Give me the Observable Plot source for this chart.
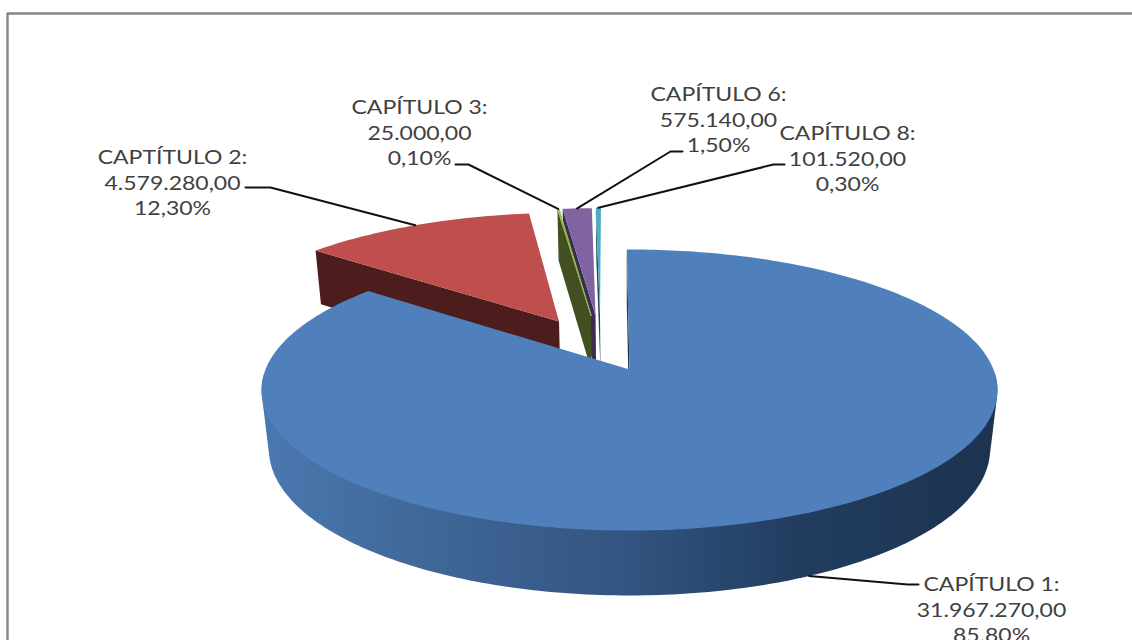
<!DOCTYPE html>
<html><head><meta charset="utf-8">
<script src="https://cdn.jsdelivr.net/npm/d3@7"></script>
<script src="https://cdn.jsdelivr.net/npm/@observablehq/plot@0.6"></script>
<style>html,body{margin:0;padding:0;background:#fff;overflow:hidden}svg{display:block}</style>
</head><body><div id="chart"></div>
<script>
// --- data ---
const categories = ["CAPÍTULO 1","CAPTÍTULO 2","CAPÍTULO 3","CAPÍTULO 6","CAPÍTULO 8"];
const values = [31967270, 4579280, 25000, 575140, 101520];
const valueLabels = ["31.967.270,00","4.579.280,00","25.000,00","575.140,00","101.520,00"];
const percentLabels = ["85.80%","12,30%","0,10%","1,50%","0,30%"];

// --- styling and layout, kept apart from the data ---
const topColors = ["#4F80BC","#BE4F4C","#9BBB59","#8064A2","#4BACC6"];
const wallColors = ["#1C3350","#4C1D1C","#414F21","#3A2C50","#1E4C58"];
const explodeU = [0,-.204,-.112,-.099,-.086];
const explodeV = [0,.3675,.4166,.4166,.42];
const labelX = [991,172,419,718,847];
const labelY = [608,181,131,118,157];
const elbowStart = [[907,584],[270,187],[468,164],[670,151],[773,164]];
const elbowEnd = [[918,584],[245,187],[455,164],[682,151],[784,164]];
// 0 = leader starts on the wall's lower rim, 1 = on the top rim
const leaderOnTop = [0,1,1,1,1];
// part of the big slice's rim whose wall faces the viewer
const frontFrom = 92, frontTo = 268;

// --- projection of the tilted disc ---
const apexX = 629, apexY = 369, K = .146, A = 137.5, C = 364, M = .02, B = 60, ROT = -.5;
function project(u, v, low) {
  const w = 1 + K * v + (low ? M : 0);
  return {x: apexX + C * u / w, y: apexY + (-A * v + (low ? B : 0)) / w};
}
const total = d3.sum(values);
let acc = 0;
const slices = values.map((val, i) => {
  const a0 = acc / total * 360 + ROT; acc += val;
  return {i, a0, a1: acc / total * 360 + ROT};
});
const rim = (s, deg, low) => {
  const r = deg * Math.PI / 180;
  return project(Math.sin(r) + explodeU[s.i], Math.cos(r) + explodeV[s.i], low);
};
const apex = (s, low) => project(explodeU[s.i], explodeV[s.i], low);
const arc = (s, low, from = s.a0, to = s.a1) => {
  const n = Math.max(2, Math.ceil(to - from));
  return d3.range(n + 1).map(k => rim(s, from + (to - from) * k / n, low));
};
const topFace = s => [apex(s, false), ...arc(s, false)];
const cutFace = (s, deg) => [apex(s, false), rim(s, deg, false), rim(s, deg, true), apex(s, true)];
// silhouette of the front wall: hull of the upper and lower rims
const frontWall = s => d3.polygonHull(
  [...arc(s, false, frontFrom, frontTo), ...arc(s, true, frontFrom, frontTo)].map(p => [p.x, p.y])
).map(([x, y]) => ({x, y}));

const poly = (pts, fill, stroke = "none") => Plot.line(pts, {x: "x", y: "y", fill, stroke, strokeWidth: 1, curve: "linear-closed"});

const marks = [
  Plot.line([{x:7,y:640},{x:7,y:13},{x:1132,y:13}], {x:"x", y:"y", stroke:"#868686", strokeWidth:2.4})
];
// back slices first; the thin slice 3 sits in front of slice 6's cut face
for (const s of [slices[1], slices[3], slices[4], slices[2]]) {
  marks.push(poly(cutFace(s, s.a0), wallColors[s.i]));
  marks.push(poly(topFace(s), topColors[s.i], s.i === 2 ? topColors[2] : "none"));
}
const big = slices[0];
marks.push(poly(cutFace(big, big.a0), wallColors[0]));
marks.push(poly(frontWall(big), "url(#wall)"));
marks.push(poly(topFace(big), topColors[0]));

// leader lines, anchored at each slice's mid angle
slices.forEach(s => {
  const start = rim(s, (s.a0 + s.a1) / 2, !leaderOnTop[s.i]);
  const pts = [start, {x: elbowStart[s.i][0], y: elbowStart[s.i][1]}, {x: elbowEnd[s.i][0], y: elbowEnd[s.i][1]}];
  marks.push(Plot.line(pts, {x:"x", y:"y", stroke:"#111", strokeWidth:2}));
});
// labels
const labels = categories.map((c, i) => ({
  text: `${c}:\n${valueLabels[i]}\n${percentLabels[i]}`, x: labelX[i], y: labelY[i]
}));
marks.push(Plot.text(labels, {x:"x", y:"y", text:"text", fontSize:19.5, lineHeight:1.3, fill:"#404040",
  fontFamily:"Lato", textAnchor:"middle", lineAnchor:"middle"}));

const svg = Plot.plot({
  width:1132, height:640, margin:0,
  style:{background:"#fff", fontFamily:"Lato"},
  x:{domain:[0,1132], range:[0,1132], axis:null},
  y:{domain:[0,640], range:[0,640], axis:null},
  marks
});
const grad = d3.select(svg).insert("defs", ":first-child").append("linearGradient")
  .attr("id","wall").attr("gradientUnits","userSpaceOnUse")
  .attr("x1",262).attr("x2",998).attr("y1",0).attr("y2",0);
[[0,"#4A78B0"],[.2,"#41699A"],[.5,"#325480"],[.72,"#223D60"],[1,"#1C3350"]]
  .forEach(([o,c]) => grad.append("stop").attr("offset",o).attr("stop-color",c));
// the reference's labels are stretched sideways
d3.select(svg).selectAll("text").attr("transform", function() {
  return (this.getAttribute("transform") || "") + " scale(1.18,1)";
});
document.getElementById("chart").append(svg);
</script></body></html>
